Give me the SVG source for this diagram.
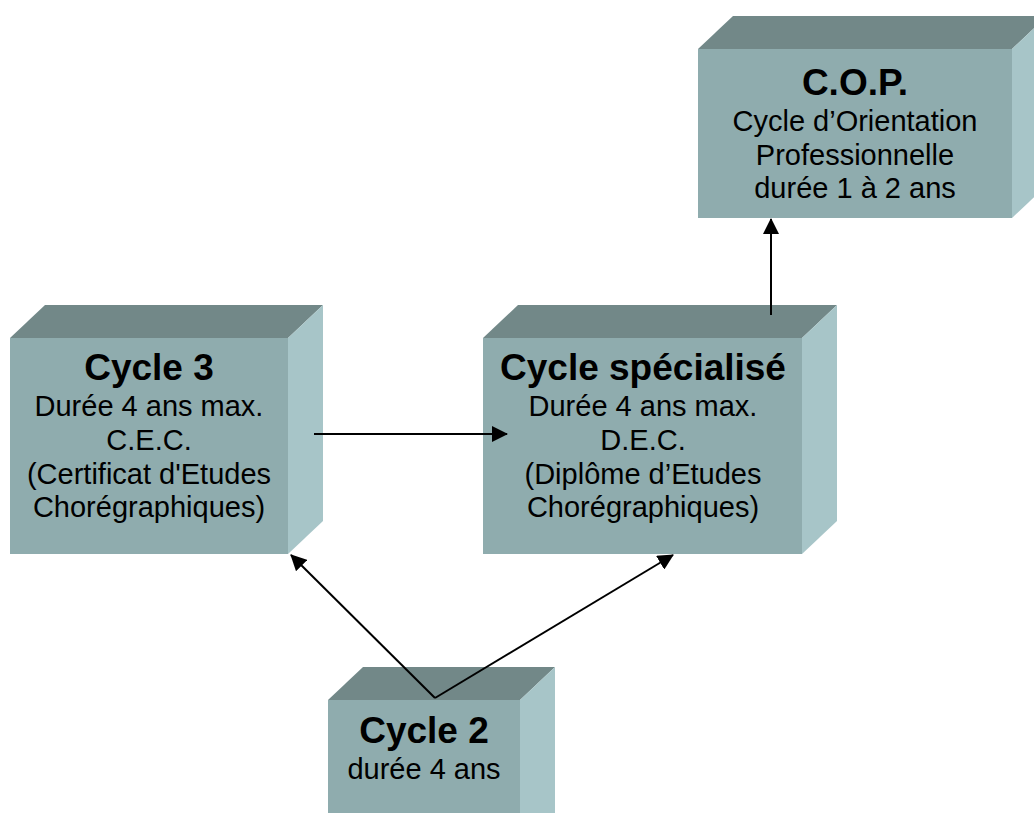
<svg xmlns="http://www.w3.org/2000/svg" width="1034" height="813" viewBox="0 0 1034 813">
<style>
.front{fill:#8FACAE}
.top{fill:#728888}
.side{fill:#A7C5C8}
.t{font-family:"Liberation Sans",Arial,sans-serif;text-anchor:middle;fill:#000}
.h{font-size:37px;font-weight:bold}
.b{font-size:29px}
.c{stroke:#000;stroke-width:2;fill:none}
</style>
<defs>
<marker id="ah" viewBox="0 0 16 16" markerWidth="16" markerHeight="16" refX="15" refY="8" orient="auto" markerUnits="userSpaceOnUse">
<path d="M0,0 L16,8 L0,16 Z" fill="#000"/>
</marker>
</defs>
<rect width="1034" height="813" fill="#fff"/>

<g id="node-cop">
<polygon class="top" points="698,49 733,16 1047,16 1012,49"/>
<polygon class="side" points="1012,49 1047,16 1047,185 1012,218"/>
<rect class="front" x="698" y="49" width="314" height="169"/>
<text class="t h" x="855" y="95">C.O.P.</text>
<text class="t b" x="855" y="131">Cycle d’Orientation</text>
<text class="t b" x="855" y="165">Professionnelle</text>
<text class="t b" x="855" y="198">durée 1 à 2 ans</text>
</g>

<g id="node-cycle3">
<polygon class="top" points="10,338 45,305 323,305 288,338"/>
<polygon class="side" points="288,338 323,305 323,521 288,554"/>
<rect class="front" x="10" y="338" width="278" height="216"/>
<text class="t h" x="149" y="380">Cycle 3</text>
<text class="t b" x="149" y="416">Durée 4 ans max.</text>
<text class="t b" x="149" y="450">C.E.C.</text>
<text class="t b" x="149" y="484">(Certificat d'Etudes</text>
<text class="t b" x="149" y="517">Chorégraphiques)</text>
</g>

<g id="node-specialise">
<polygon class="top" points="483,338 518,305 837,305 802,338"/>
<polygon class="side" points="802,338 837,305 837,521 802,554"/>
<rect class="front" x="483" y="338" width="319" height="216"/>
<text class="t h" x="643" y="380">Cycle spécialisé</text>
<text class="t b" x="643" y="416">Durée 4 ans max.</text>
<text class="t b" x="643" y="450">D.E.C.</text>
<text class="t b" x="643" y="484">(Diplôme d’Etudes</text>
<text class="t b" x="643" y="517">Chorégraphiques)</text>
</g>

<g id="node-cycle2">
<polygon class="top" points="328,700 363,667 555,667 520,700"/>
<polygon class="side" points="520,700 555,667 555,830 520,830"/>
<rect class="front" x="328" y="700" width="192" height="130"/>
<text class="t h" x="424" y="743">Cycle 2</text>
<text class="t b" x="424" y="779">durée 4 ans</text>
</g>

<g id="connectors">
<line class="c" x1="314" y1="434" x2="507" y2="434" marker-end="url(#ah)"/>
<line class="c" x1="771" y1="315" x2="771" y2="219" marker-end="url(#ah)"/>
<line class="c" x1="435" y1="698" x2="291" y2="555" marker-end="url(#ah)"/>
<line class="c" x1="435" y1="698" x2="673" y2="555" marker-end="url(#ah)"/>
</g>
</svg>
